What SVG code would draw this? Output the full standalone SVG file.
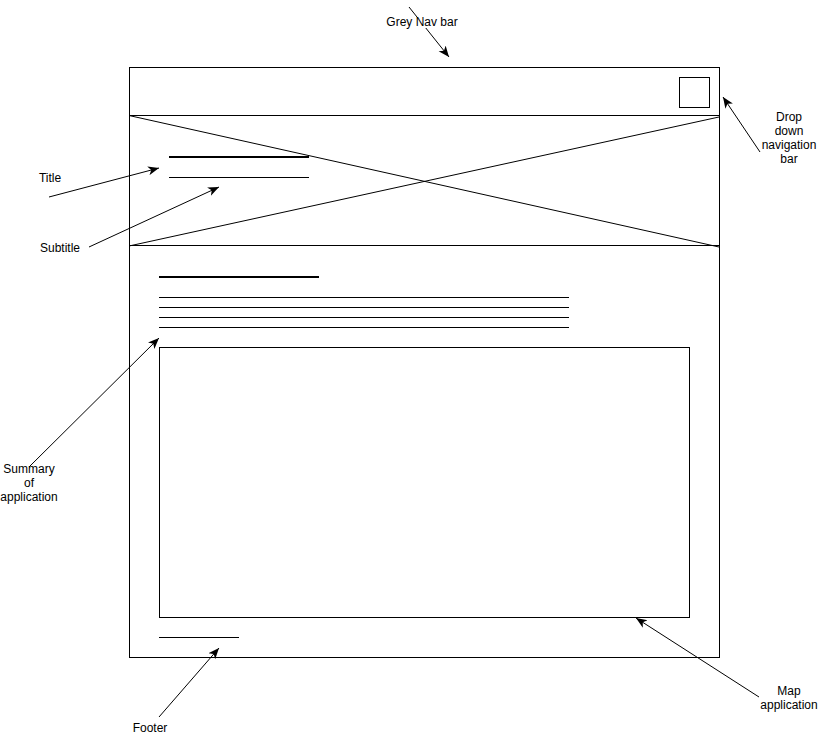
<svg xmlns="http://www.w3.org/2000/svg" width="818" height="738" viewBox="0 0 818 738">
  <style>
    .frame { fill: #fff; stroke: #000; stroke-width: 1; }
    .ln { stroke: #000; stroke-width: 1; fill: none; }
    .thick { stroke: #000; stroke-width: 2; fill: none; }
    .conn { stroke: #000; stroke-width: 1; fill: none; marker-end: url(#arrow); }
    .lbl { font-family: "Liberation Sans", Arial, sans-serif; font-size: 12px; fill: #000; text-anchor: middle; }
  </style>
  <defs>
    <marker id="arrow" markerUnits="userSpaceOnUse" markerWidth="12" markerHeight="10" viewBox="0 0 12 10" refX="11" refY="5" orient="auto">
      <path d="M0,0.5 L11,5 L0,9.5 L3,5 Z" fill="#000" stroke="none"/>
    </marker>
  </defs>
  <rect width="818" height="738" fill="#fff"/>

  <!-- page frame with nav bar -->
  <g id="page">
    <rect class="frame" x="129.5" y="67.5" width="590" height="590"/>
    <line class="ln" x1="129" y1="115.5" x2="719" y2="115.5"/>
    <line class="ln" x1="129" y1="245.5" x2="719" y2="245.5"/>
  </g>

  <!-- drop-down menu button -->
  <g id="menu-button">
    <rect class="frame" x="679.5" y="77.5" width="30" height="30"/>
  </g>

  <!-- hero image placeholder -->
  <g id="hero-image">
    <line class="ln" x1="129" y1="115.5" x2="719" y2="247"/>
    <line class="ln" x1="129" y1="246" x2="719" y2="117"/>
  </g>

  <!-- title and subtitle -->
  <g id="title">
    <line class="thick" x1="169" y1="157" x2="309" y2="157"/>
    <line class="ln" x1="169" y1="177.5" x2="309" y2="177.5"/>
  </g>

  <!-- summary text block -->
  <g id="summary">
    <line class="thick" x1="159" y1="277" x2="319" y2="277"/>
    <line class="ln" x1="159" y1="297.5" x2="569" y2="297.5"/>
    <line class="ln" x1="159" y1="307.5" x2="569" y2="307.5"/>
    <line class="ln" x1="159" y1="317.5" x2="569" y2="317.5"/>
    <line class="ln" x1="159" y1="327.5" x2="569" y2="327.5"/>
  </g>

  <!-- map area -->
  <g id="map">
    <rect class="frame" x="159.5" y="347.5" width="530" height="270"/>
  </g>

  <!-- footer -->
  <g id="footer">
    <line class="ln" x1="159" y1="637.5" x2="239" y2="637.5"/>
  </g>

  <!-- connectors -->
  <g id="connectors">
    <line class="conn" x1="409" y1="7" x2="449" y2="57"/>
    <line class="conn" x1="760" y1="152" x2="723" y2="97"/>
    <line class="conn" x1="49" y1="197" x2="159" y2="168"/>
    <line class="conn" x1="89" y1="247" x2="219" y2="187"/>
    <line class="conn" x1="29" y1="467" x2="159" y2="338"/>
    <line class="conn" x1="159" y1="717" x2="219" y2="648"/>
    <line class="conn" x1="759" y1="697" x2="636" y2="618"/>
  </g>

  <!-- annotation labels -->
  <g id="label-nav">
    <rect x="386" y="18" width="72" height="10" fill="#fff"/>
    <text class="lbl" x="422" y="26">Grey Nav bar</text>
  </g>
  <g id="label-dropdown">
    <text class="lbl" x="789" y="121">Drop</text>
    <text class="lbl" x="789" y="135">down</text>
    <text class="lbl" x="789" y="149">navigation</text>
    <text class="lbl" x="789" y="163">bar</text>
  </g>
  <g id="label-title"><text class="lbl" x="50" y="182">Title</text></g>
  <g id="label-subtitle"><text class="lbl" x="60" y="252">Subtitle</text></g>
  <g id="label-summary">
    <text class="lbl" x="29" y="473">Summary</text>
    <text class="lbl" x="29" y="487">of</text>
    <text class="lbl" x="29" y="501">application</text>
  </g>
  <g id="label-footer"><text class="lbl" x="150" y="732">Footer</text></g>
  <g id="label-map">
    <text class="lbl" x="789" y="695">Map</text>
    <text class="lbl" x="789" y="709">application</text>
  </g>
</svg>
